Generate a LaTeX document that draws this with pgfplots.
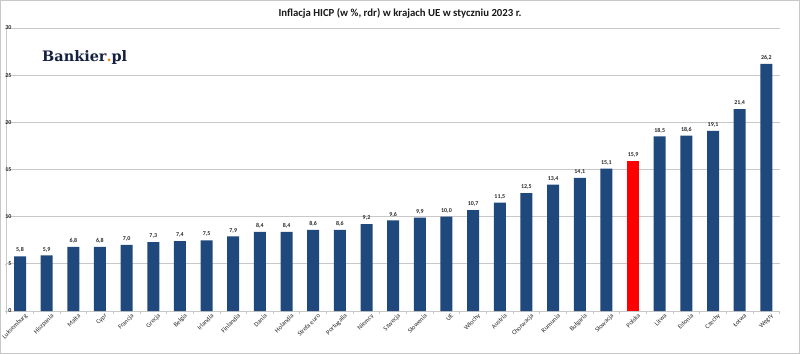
\documentclass[border=0pt]{standalone}
\usepackage{pgfplots}
\pgfplotsset{compat=1.18}
\usepackage{fontspec}
\setmainfont{Carlito}
\newfontfamily\logofont{DejaVu Serif}
\definecolor{barblue}{RGB}{31,73,125}
\definecolor{barred}{RGB}{255,0,0}
\definecolor{gridgray}{RGB}{200,200,200}
\definecolor{logonavy}{RGB}{22,32,64}
\definecolor{logoorange}{RGB}{230,140,30}
\begin{document}
\begin{tikzpicture}[x=1bp,y=1bp]
\path[use as bounding box] (0,0) rectangle (800,354);
\draw[gridgray,line width=1bp] (0.5,0.5) rectangle (799.5,353.5);
\begin{axis}[
  at={(20bp,43bp)}, anchor=origin,
  scale only axis, width=773bp, height=283bp,
  xmin=-0.5, xmax=28.5, ymin=0, ymax=30,
  ytick={0,5,...,30},
  axis x line*=bottom, axis y line*=left,
  axis line style={gridgray, line width=0.8bp, -},
  ymajorgrids, grid style={gridgray, line width=0.8bp},
  xtick={0,...,28},
  major x tick style={draw=none},
  minor xtick={-0.5,0.5,...,28.5},
  minor x tick style={gridgray, line width=0.8bp},
  minor tick length=3bp,
  tick align=outside,
  major y tick style={gridgray},
  major tick length=2bp,
  xticklabels={Luksemburg,Hiszpania,Malta,Cypr,Francja,Grecja,Belgia,Irlandia,Finlandia,Dania,Holandia,Strefa euro,Portugalia,Niemcy,Szwecja,Słowenia,UE,Włochy,Austria,Chorwacja,Rumunia,Bułgaria,Słowacja,Polska,Litwa,Estonia,Czechy,Łotwa,Węgry},
  xticklabel style={rotate=45, anchor=north east, font=\fontsize{6.5}{7}\selectfont, text=black!85, inner sep=1bp, xshift=4bp, yshift=-2bp},
  yticklabel style={font=\bfseries\fontsize{6}{7}\selectfont, text=black!85, anchor=east, inner sep=0pt},
  yticklabel shift=-7bp,
  /pgf/number format/assume math mode=true,
  ybar, bar width=12bp, bar shift=0pt,
  nodes near coords,
  nodes near coords style={font=\bfseries\fontsize{6}{7}\selectfont, text=black!85, /pgf/number format/.cd, fixed, fixed zerofill, precision=1, use comma, assume math mode=true},
  clip=false,
]
\addplot[fill=barblue, draw=none] coordinates {
(0,5.8) (1,5.9) (2,6.8) (3,6.8) (4,7.0) (5,7.3) (6,7.4) (7,7.5) (8,7.9) (9,8.4)
(10,8.4) (11,8.6) (12,8.6) (13,9.2) (14,9.6) (15,9.9) (16,10.0) (17,10.7) (18,11.5)
(19,12.5) (20,13.4) (21,14.1) (22,15.1) (24,18.5) (25,18.6) (26,19.1) (27,21.4) (28,26.2)};
\addplot[fill=barred, draw=none] coordinates {(23,15.9)};
\end{axis}
\node[fill=white, inner sep=0pt, minimum width=125bp, minimum height=30bp, anchor=west] at (21,296) {};
\node[anchor=west, inner sep=0pt, text=logonavy, font=\logofont\bfseries\fontsize{14.5}{15}\selectfont] at (42,296) {Bankier\textcolor{logoorange}{.}pl};
\node[font=\bfseries\fontsize{10.8}{12}\selectfont, text=black!90] at (400,341) {Inflacja HICP (w \%, rdr) w krajach UE w styczniu 2023 r.};
\end{tikzpicture}
\end{document}
